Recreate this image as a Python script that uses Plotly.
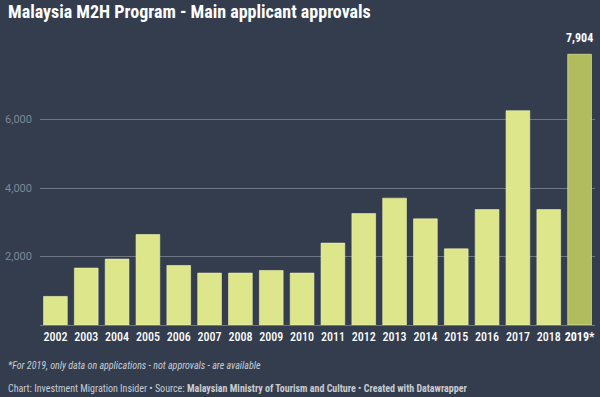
import plotly.graph_objects as go

years = ["2002", "2003", "2004", "2005", "2006", "2007", "2008", "2009", "2010",
         "2011", "2012", "2013", "2014", "2015", "2016", "2017", "2018", "2019*"]
approvals = [834, 1662, 1924, 2641, 1738, 1516, 1516, 1592, 1516,
             2391, 3254, 3703, 3099, 2224, 3370, 6257, 3370, 7904]
y_ticks = [2000, 4000, 6000]
y_tick_labels = ["2,000", "4,000", "6,000"]

BG = "#333d4e"
BAR = "#dde68a"
BAR_HL = "#b1bc5e"
FONT = "Roboto Condensed, Roboto, sans-serif"

colors = [BAR] * (len(years) - 1) + [BAR_HL]
tick_text = [y for y in years[:-1]] + ["<b>%s</b>" % years[-1]]

fig = go.Figure(go.Bar(
    x=years, y=approvals,
    marker=dict(color=colors, line=dict(color="#f1f5b0", width=0.6)),
    width=0.77,
    hoverinfo="x+y",
))

fig.update_layout(
    width=600, height=397,
    paper_bgcolor=BG, plot_bgcolor=BG,
    margin=dict(l=36, r=5, t=51, b=72),
    showlegend=False,
    bargap=0.23,
    font=dict(family=FONT, color="#ffffff"),
    xaxis=dict(
        type="category", range=[-0.5, 17.5],
        tickvals=years, ticktext=tick_text, tickangle=0,
        tickfont=dict(family=FONT, size=12, color="#ffffff", weight=500),
        showgrid=False, showline=False, ticks="", ticklabelstandoff=3,
        fixedrange=True,
    ),
    yaxis=dict(
        range=[0, 8000], tickvals=y_ticks, ticktext=y_tick_labels,
        tickfont=dict(family="Roboto", size=11, color="#7f8796"),
        showgrid=True, gridcolor="#6e7583", gridwidth=1,
        zeroline=True, zerolinecolor="#6e7583", zerolinewidth=1,
        ticks="", ticklabelstandoff=7, fixedrange=True,
    ),
    annotations=[
        dict(text="<b>{:,}</b>".format(approvals[-1]),
             x=years[-1], y=approvals[-1], xref="x", yref="y",
             xanchor="center", yanchor="bottom", showarrow=False,
             font=dict(family=FONT, size=12, color="#ffffff"), yshift=7),
        dict(text="<b>Malaysia M2H Program - Main applicant approvals</b>",
             xref="paper", yref="paper", x=0, y=1, xanchor="left", yanchor="top",
             showarrow=False, font=dict(family=FONT, size=18, color="#ffffff"),
             xshift=-34, yshift=52),
        dict(text="<i>*For 2019, only data on applications - not approvals - are available</i>",
             xref="paper", yref="paper", x=0, y=0, xanchor="left", yanchor="middle",
             showarrow=False, font=dict(family=FONT, size=10, color="#c9ccd2"),
             xshift=-34, yshift=-40),
        dict(text="Chart: Investment Migration Insider • Source: <b>Malaysian Ministry of Tourism and Culture</b> • <b>Created with Datawrapper</b>",
             xref="paper", yref="paper", x=0, y=0, xanchor="left", yanchor="middle",
             showarrow=False, font=dict(family=FONT, size=10, color="#c9ccd2"),
             xshift=-34, yshift=-63),
    ],
)

fig.write_html("out.html", config={"displayModeBar": False},
               post_script="document.body.style.margin='0px';")
